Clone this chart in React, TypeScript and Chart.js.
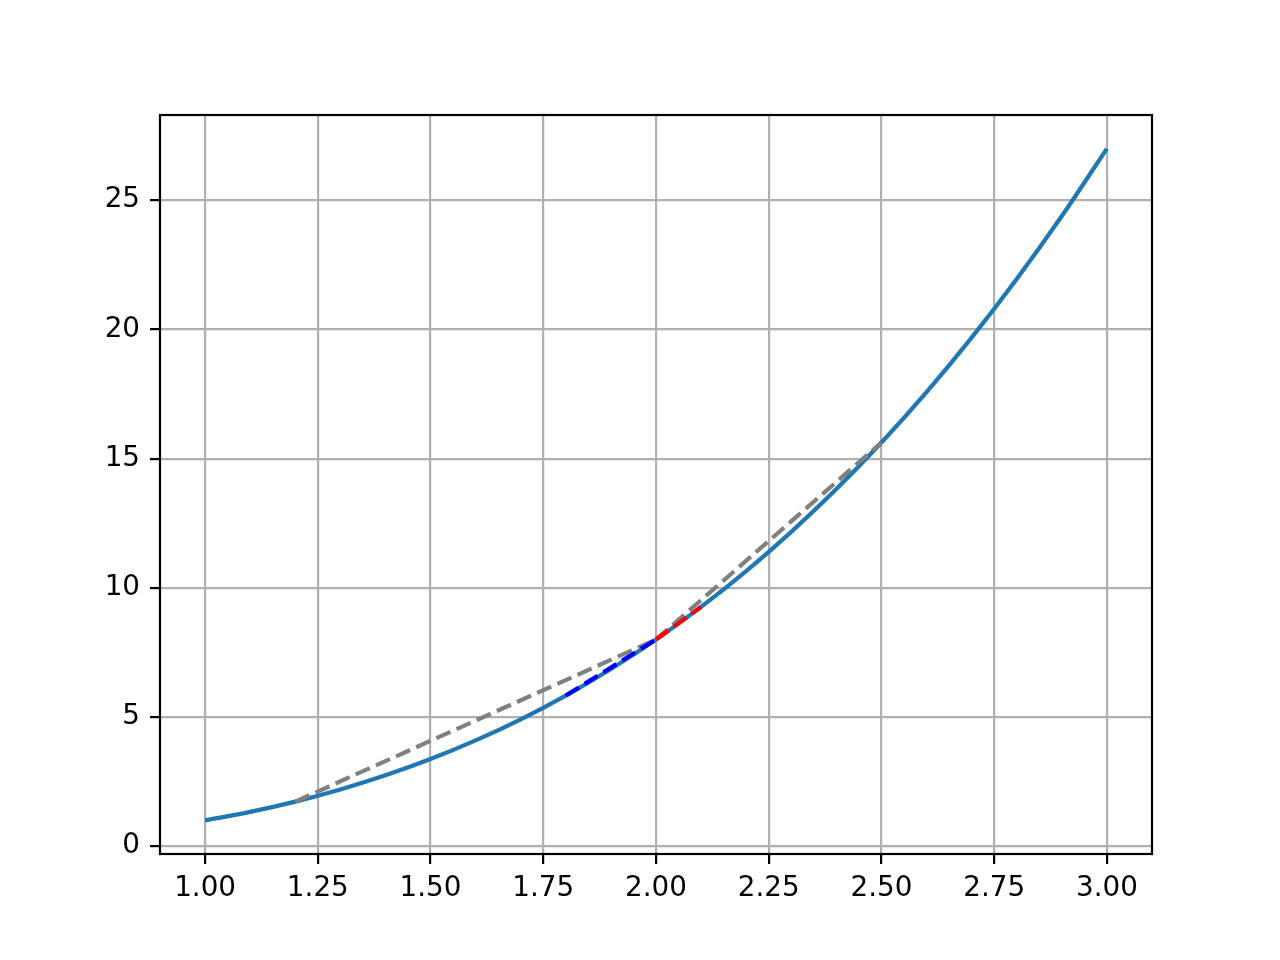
import React, { useEffect, useRef } from "react";
import { Chart, registerables } from "chart.js";

Chart.register(...registerables);

const curveX = [1.0, 1.1, 1.2, 1.3, 1.4, 1.5, 1.6, 1.7, 1.8, 1.9, 2.0, 2.1, 2.2, 2.3, 2.4, 2.5, 2.6, 2.7, 2.8, 2.9, 3.0];
const curveY = [1.0, 1.331, 1.728, 2.197, 2.744, 3.375, 4.096, 4.913, 5.832, 6.859, 8.0, 9.261, 10.648, 12.167, 13.824, 15.625, 17.576, 19.683, 21.952, 24.389, 27.0];

const grayLeftX = [1.2, 2.0];
const grayLeftY = [1.728, 8.0];
const grayRightX = [2.0, 2.5];
const grayRightY = [8.0, 15.625];
const blueX = [1.8, 2.0];
const blueY = [5.832, 8.0];
const redX = [2.0, 2.1];
const redY = [8.0, 9.261];

const xTicks = [1.0, 1.25, 1.5, 1.75, 2.0, 2.25, 2.5, 2.75, 3.0];
const yTicks = [0, 5, 10, 15, 20, 25];

const pts = (xs: number[], ys: number[]) => xs.map((x, i) => ({ x, y: ys[i] }));

const frame = {
  id: "frame",
  afterDraw(chart: any) {
    const { ctx, chartArea } = chart;
    ctx.save();
    ctx.strokeStyle = "#000";
    ctx.lineWidth = 2.2;
    ctx.strokeRect(chartArea.left, chartArea.top, chartArea.right - chartArea.left, chartArea.bottom - chartArea.top);
    ctx.restore();
  },
};

export default function App() {
  const ref = useRef<HTMLCanvasElement>(null);
  useEffect(() => {
    if (!ref.current) return;
    const dash = [15.4, 6.7];
    const lw = 4.2;
    const chart = new Chart(ref.current, {
      type: "line",
      data: {
        datasets: [
          { data: pts(curveX, curveY), borderColor: "#1f77b4", borderWidth: lw, pointRadius: 0, cubicInterpolationMode: "monotone", order: 10 },
          { data: pts(grayLeftX, grayLeftY), borderColor: "#808080", borderWidth: lw, borderDash: dash, pointRadius: 0, order: 4 },
          { data: pts(grayRightX, grayRightY), borderColor: "#808080", borderWidth: lw, borderDash: dash, pointRadius: 0, order: 3 },
          { data: pts(blueX, blueY), borderColor: "#0000ff", borderWidth: lw, borderDash: dash, pointRadius: 0, order: 2 },
          { data: pts(redX, redY), borderColor: "#ff0000", borderWidth: lw, borderDash: dash, pointRadius: 0, order: 1 },
        ],
      } as any,
      options: {
        animation: false,
        responsive: false,
        events: [],
        layout: { padding: { left: 0, top: 115, right: 128, bottom: 0 } },
        plugins: { legend: { display: false }, tooltip: { enabled: false } },
        scales: {
          x: {
            type: "linear",
            min: 0.9,
            max: 3.1,
            afterBuildTicks: (s: any) => { s.ticks = xTicks.map((v) => ({ value: v })); },
            afterFit: (s: any) => { s.height = 106; },
            border: { display: false },
            grid: { color: "#b0b0b0", lineWidth: 2.2, tickLength: 10, tickColor: "#000", tickWidth: 2.2 },
            ticks: { padding: 8, color: "#000", font: { family: "DejaVu Sans", size: 27.8 }, maxRotation: 0, autoSkip: false, callback: (v: any) => Number(v).toFixed(2) },
          },
          y: {
            type: "linear",
            min: -0.3,
            max: 28.3,
            afterBuildTicks: (s: any) => { s.ticks = yTicks.map((v) => ({ value: v })); },
            afterFit: (s: any) => { s.width = 160; },
            border: { display: false },
            grid: { color: "#b0b0b0", lineWidth: 2.2, tickLength: 10, tickColor: "#000", tickWidth: 2.2 },
            ticks: { padding: 10, color: "#000", font: { family: "DejaVu Sans", size: 27.8 }, autoSkip: false, callback: (v: any) => String(v) },
          },
        },
      } as any,
      plugins: [frame],
    });
    return () => chart.destroy();
  }, []);
  return (
    <div style={{ position: "fixed", left: 0, top: 0, width: 1280, height: 960, background: "#fff" }}>
      <canvas ref={ref} width={1280} height={960} />
    </div>
  );
}
